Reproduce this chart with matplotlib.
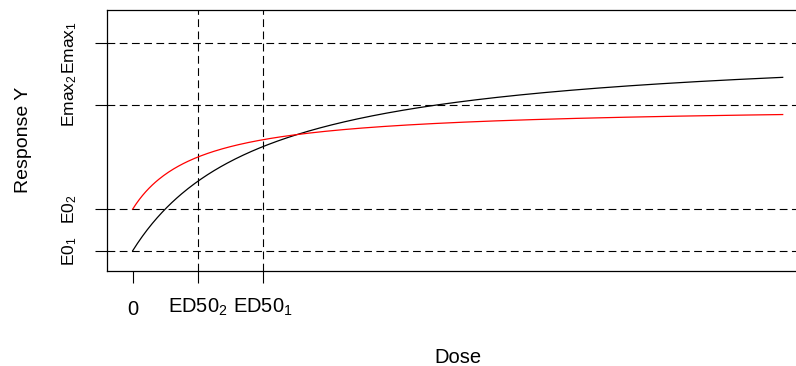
import numpy as np
import matplotlib.pyplot as plt
from matplotlib.transforms import ScaledTranslation

plt.rcParams['font.family'] = ['Liberation Sans', 'DejaVu Sans']
plt.rcParams['mathtext.fontset'] = 'custom'
plt.rcParams['mathtext.rm'] = 'Liberation Sans'
plt.rcParams['mathtext.it'] = 'Liberation Sans'

# Emax model parameters for the two curves
e0 = [0.0, 0.2]
emax = [1.0, 0.5]
ed50 = [2.0, 1.0]
curve_colors = ['black', 'red']
dose_max = 10

x_ticks = [0, ed50[1], ed50[0]]
x_labels = ['0', r'$\mathrm{ED50}_2$', r'$\mathrm{ED50}_1$']
y_ticks = [e0[0], e0[1], e0[1] + emax[1], e0[0] + emax[0]]
y_labels = [r'$\mathrm{E0}_1$', r'$\mathrm{E0}_2$',
            r'$\mathrm{Emax}_2$', r'$\mathrm{Emax}_1$']

W, H = 796, 366
fig = plt.figure(figsize=(W / 100, H / 100), dpi=100)
left, right, top, bottom = 106.7, 808.7, 10, 270.7
ax = fig.add_axes([left / W, 1 - bottom / H, (right - left) / W, (bottom - top) / H])

d = np.linspace(0, dose_max, 400)
for i in range(2):
    resp = e0[i] + emax[i] * d / (ed50[i] + d)
    ax.plot(d, resp, color=curve_colors[i], lw=0.9, zorder=3)

dash = (0, (7, 4))
for yv in y_ticks:
    ax.axhline(yv, color='black', lw=0.8, ls=dash)
for xv in ed50:
    ax.axvline(xv, color='black', lw=0.8, ls=dash)

ax.set_xlim(-0.4, 10.4)
ax.set_ylim(-0.096, 1.157)

fs = 14.5
ax.set_xticks(x_ticks)
ax.set_xticklabels(x_labels)
ax.set_yticks(y_ticks)
ax.set_yticklabels(y_labels, rotation=90, va='center')
ax.tick_params(axis='both', length=8.8, width=0.8, direction='out')
ax.tick_params(axis='x', pad=10, labelsize=fs)
ax.tick_params(axis='y', pad=11, labelsize=12.5)

# small nudges of individual tick labels (in inches)
def nudge(label, dx, dy):
    label.set_transform(label.get_transform() + ScaledTranslation(dx, dy, fig.dpi_scale_trans))

xl = ax.get_xticklabels()
nudge(xl[0], 0, -0.03)
yl = ax.get_yticklabels()
nudge(yl[2], 0, 0.045)
nudge(yl[3], 0, -0.045)

for s in ax.spines.values():
    s.set_linewidth(0.9)

ax.set_xlabel('Dose', fontsize=fs)
ax.xaxis.label.set_va('baseline')
ax.xaxis.set_label_coords(0.5, (bottom - 363) / (bottom - top))
ax.set_ylabel('Response Y', fontsize=14)
ax.yaxis.label.set_va('center')
ax.yaxis.set_label_coords((23 - left) / (right - left), 0.5)

fig.savefig('out.png', dpi=100)
